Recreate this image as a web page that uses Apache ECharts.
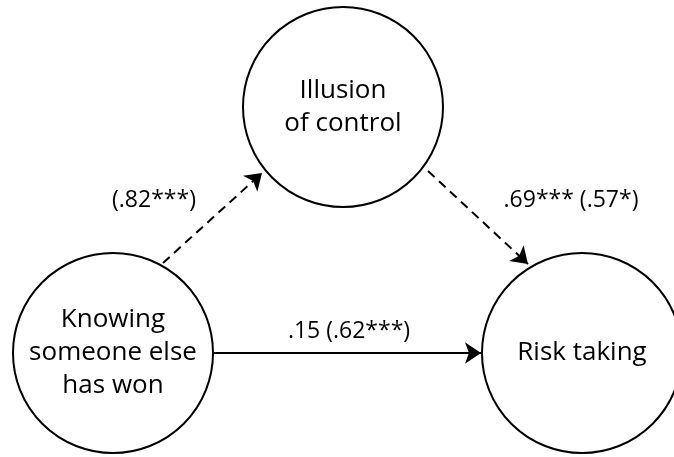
<!DOCTYPE html>
<html>
<head>
<meta charset="utf-8">
<script src="https://cdn.jsdelivr.net/npm/echarts@6/dist/echarts.min.js"></script>
<style>html,body{margin:0;padding:0;background:#fff}#c{width:674px;height:457px}</style>
</head>
<body>
<div id="c"></div>
<script>
// Nodes (diagram units: x right, y down)
var nodeNames = ['Illusion\nof control', 'Knowing\nsomeone else\nhas won', 'Risk taking'];
var nodeX = [343, 113, 582];
var nodeY = [107, 353, 353];
var nodeDiameter = 200;

// Paths: start/end points and style
var pathFrom = [[163, 263], [428, 171], [213, 353]];
var pathTo = [[262, 173], [528, 264], [481, 353]];
var pathDashed = [true, true, false];

// Path coefficient labels
var coefLabels = ['(.82***)', '.69*** (.57*)', '.15 (.62***)'];
var coefX = [154, 571, 349];
var coefY = [200, 200, 331];

var chart = echarts.init(document.getElementById('c'));
var FONT = 'Open Sans';

var nodeData = nodeNames.map(function (n, i) { return { value: [nodeX[i], nodeY[i]], name: n }; });
var lineData = pathFrom.map(function (f, i) {
  return {
    coords: [f, pathTo[i]],
    lineStyle: { type: pathDashed[i] ? [9, 6] : 'solid' }
  };
});
var labelData = coefLabels.map(function (t, i) { return { value: [coefX[i], coefY[i]], name: t }; });

chart.setOption({
  animation: false,
  grid: { left: 0, right: 0, top: 0, bottom: 0 },
  xAxis: { type: 'value', min: 0, max: 674, show: false },
  yAxis: { type: 'value', min: 0, max: 457, inverse: true, show: false },
  series: [
    {
      type: 'lines',
      coordinateSystem: 'cartesian2d',
      symbol: ['none', 'arrow'],
      symbolSize: 16,
      lineStyle: { color: '#000', width: 2, opacity: 1 },
      data: lineData,
      z: 2
    },
    {
      type: 'scatter',
      symbol: 'circle',
      symbolSize: nodeDiameter,
      itemStyle: { color: 'rgba(255,255,255,0)', borderColor: '#000', borderWidth: 2, opacity: 1 },
      label: {
        show: true, position: 'inside', formatter: '{b}',
        color: '#000', fontFamily: FONT, fontSize: 26, lineHeight: 33
      },
      emphasis: { disabled: true },
      data: nodeData,
      z: 3
    },
    {
      type: 'scatter',
      symbolSize: 0,
      itemStyle: { opacity: 1 },
      label: {
        show: true, position: 'inside', formatter: '{b}',
        color: '#000', fontFamily: FONT, fontSize: 23
      },
      emphasis: { disabled: true },
      data: labelData,
      z: 4
    }
  ]
});
</script>
</body>
</html>
